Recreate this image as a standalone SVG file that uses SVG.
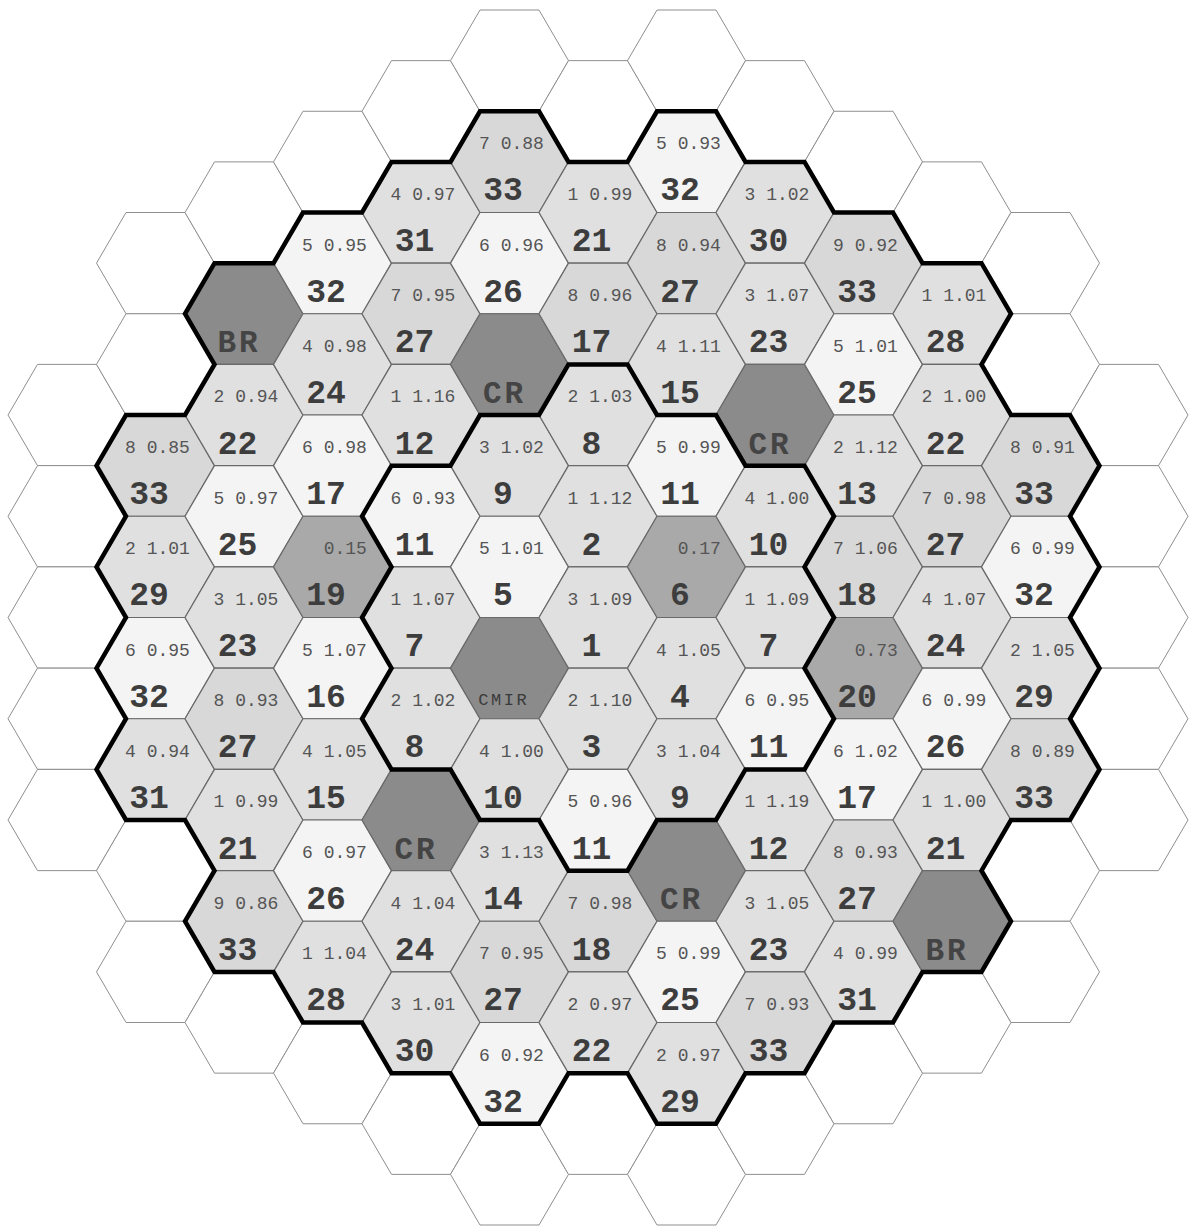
<svg xmlns="http://www.w3.org/2000/svg" xmlns:xlink="http://www.w3.org/1999/xlink" width="1192" height="1227" viewBox="0 0 1192 1227">
<style>
.w{fill:#fff;stroke:#8f8f8f;stroke-width:1}
.a{fill:#f4f4f4;stroke:#6a6a6a;stroke-width:1.2}
.b{fill:#e0e0e0;stroke:#6a6a6a;stroke-width:1.2}
.c{fill:#d8d8d8;stroke:#6a6a6a;stroke-width:1.2}
.p{fill:#a9a9a9;stroke:#6a6a6a;stroke-width:1.2}
.d{fill:#8b8b8b;stroke:#6a6a6a;stroke-width:1.2}
.s{font-family:"Liberation Mono","DejaVu Sans Mono",monospace;font-size:18px;fill:#555;text-anchor:middle}
.n{font-family:"Liberation Mono","DejaVu Sans Mono",monospace;font-size:33px;font-weight:bold;fill:#3d3d3d;text-anchor:middle}
.r{font-family:"Liberation Mono","DejaVu Sans Mono",monospace;font-size:31px;font-weight:bold;fill:#444;text-anchor:middle;letter-spacing:3px}
.m{font-family:"Liberation Mono","DejaVu Sans Mono",monospace;font-size:17px;fill:#3a3a3a;text-anchor:middle;letter-spacing:2.5px}
.bd{fill:none;stroke:#000;stroke-width:4.5;stroke-linejoin:miter}
</style>
<defs>
<polygon id="hx" points="-59,0 -29.5,-50.625 29.5,-50.625 59,0 29.5,50.625 -29.5,50.625"/>
</defs>
<rect width="1192" height="1227" fill="#fff"/>
<g id="empty-positions">
<use id="e01" href="#hx" class="w" x="67" y="415"/>
<use id="e02" href="#hx" class="w" x="67" y="516.25"/>
<use id="e03" href="#hx" class="w" x="67" y="617.5"/>
<use id="e04" href="#hx" class="w" x="67" y="718.75"/>
<use id="e05" href="#hx" class="w" x="67" y="820"/>
<use id="e06" href="#hx" class="w" x="155.5" y="263.13"/>
<use id="e07" href="#hx" class="w" x="155.5" y="364.38"/>
<use id="e08" href="#hx" class="w" x="155.5" y="870.63"/>
<use id="e09" href="#hx" class="w" x="155.5" y="971.88"/>
<use id="e10" href="#hx" class="w" x="244" y="212.5"/>
<use id="e11" href="#hx" class="w" x="244" y="1022.5"/>
<use id="e12" href="#hx" class="w" x="332.5" y="161.88"/>
<use id="e13" href="#hx" class="w" x="332.5" y="1073.13"/>
<use id="e14" href="#hx" class="w" x="421" y="111.25"/>
<use id="e15" href="#hx" class="w" x="421" y="1123.75"/>
<use id="e16" href="#hx" class="w" x="509.5" y="60.63"/>
<use id="e17" href="#hx" class="w" x="509.5" y="1174.38"/>
<use id="e18" href="#hx" class="w" x="598" y="111.25"/>
<use id="e19" href="#hx" class="w" x="598" y="1123.75"/>
<use id="e20" href="#hx" class="w" x="686.5" y="60.63"/>
<use id="e21" href="#hx" class="w" x="686.5" y="1174.38"/>
<use id="e22" href="#hx" class="w" x="775" y="111.25"/>
<use id="e23" href="#hx" class="w" x="775" y="1123.75"/>
<use id="e24" href="#hx" class="w" x="863.5" y="161.88"/>
<use id="e25" href="#hx" class="w" x="863.5" y="1073.13"/>
<use id="e26" href="#hx" class="w" x="952" y="212.5"/>
<use id="e27" href="#hx" class="w" x="952" y="1022.5"/>
<use id="e28" href="#hx" class="w" x="1040.5" y="263.13"/>
<use id="e29" href="#hx" class="w" x="1040.5" y="364.38"/>
<use id="e30" href="#hx" class="w" x="1040.5" y="870.63"/>
<use id="e31" href="#hx" class="w" x="1040.5" y="971.88"/>
<use id="e32" href="#hx" class="w" x="1129" y="415"/>
<use id="e33" href="#hx" class="w" x="1129" y="516.25"/>
<use id="e34" href="#hx" class="w" x="1129" y="617.5"/>
<use id="e35" href="#hx" class="w" x="1129" y="718.75"/>
<use id="e36" href="#hx" class="w" x="1129" y="820"/>
</g>
<g id="core">
<!-- column 1 -->
<g id="c1r1" transform="translate(155.5,465.63)"><use href="#hx" class="c"/><text class="s" x="2" y="-12.6">8 0.85</text><text class="n" x="-6.5" y="38.5">33</text></g>
<g id="c1r2" transform="translate(155.5,566.88)"><use href="#hx" class="b"/><text class="s" x="2" y="-12.6">2 1.01</text><text class="n" x="-6.5" y="38.5">29</text></g>
<g id="c1r3" transform="translate(155.5,668.13)"><use href="#hx" class="a"/><text class="s" x="2" y="-12.6">6 0.95</text><text class="n" x="-6.5" y="38.5">32</text></g>
<g id="c1r4" transform="translate(155.5,769.38)"><use href="#hx" class="b"/><text class="s" x="2" y="-12.6">4 0.94</text><text class="n" x="-6.5" y="38.5">31</text></g>
<!-- column 2 -->
<g id="c2r1" transform="translate(244,313.75)"><use href="#hx" class="d"/><text class="r" x="-5" y="38.5">BR</text></g>
<g id="c2r2" transform="translate(244,415)"><use href="#hx" class="b"/><text class="s" x="2" y="-12.6">2 0.94</text><text class="n" x="-6.5" y="38.5">22</text></g>
<g id="c2r3" transform="translate(244,516.25)"><use href="#hx" class="a"/><text class="s" x="2" y="-12.6">5 0.97</text><text class="n" x="-6.5" y="38.5">25</text></g>
<g id="c2r4" transform="translate(244,617.5)"><use href="#hx" class="b"/><text class="s" x="2" y="-12.6">3 1.05</text><text class="n" x="-6.5" y="38.5">23</text></g>
<g id="c2r5" transform="translate(244,718.75)"><use href="#hx" class="c"/><text class="s" x="2" y="-12.6">8 0.93</text><text class="n" x="-6.5" y="38.5">27</text></g>
<g id="c2r6" transform="translate(244,820)"><use href="#hx" class="b"/><text class="s" x="2" y="-12.6">1 0.99</text><text class="n" x="-6.5" y="38.5">21</text></g>
<g id="c2r7" transform="translate(244,921.25)"><use href="#hx" class="c"/><text class="s" x="2" y="-12.6">9 0.86</text><text class="n" x="-6.5" y="38.5">33</text></g>
<!-- column 3 -->
<g id="c3r1" transform="translate(332.5,263.13)"><use href="#hx" class="a"/><text class="s" x="2" y="-12.6">5 0.95</text><text class="n" x="-6.5" y="38.5">32</text></g>
<g id="c3r2" transform="translate(332.5,364.38)"><use href="#hx" class="b"/><text class="s" x="2" y="-12.6">4 0.98</text><text class="n" x="-6.5" y="38.5">24</text></g>
<g id="c3r3" transform="translate(332.5,465.63)"><use href="#hx" class="a"/><text class="s" x="2" y="-12.6">6 0.98</text><text class="n" x="-6.5" y="38.5">17</text></g>
<g id="c3r4" transform="translate(332.5,566.88)"><use href="#hx" class="p"/><text class="s" x="12.8" y="-12.6">0.15</text><text class="n" x="-6.5" y="38.5">19</text></g>
<g id="c3r5" transform="translate(332.5,668.13)"><use href="#hx" class="a"/><text class="s" x="2" y="-12.6">5 1.07</text><text class="n" x="-6.5" y="38.5">16</text></g>
<g id="c3r6" transform="translate(332.5,769.38)"><use href="#hx" class="b"/><text class="s" x="2" y="-12.6">4 1.05</text><text class="n" x="-6.5" y="38.5">15</text></g>
<g id="c3r7" transform="translate(332.5,870.63)"><use href="#hx" class="a"/><text class="s" x="2" y="-12.6">6 0.97</text><text class="n" x="-6.5" y="38.5">26</text></g>
<g id="c3r8" transform="translate(332.5,971.88)"><use href="#hx" class="b"/><text class="s" x="2" y="-12.6">1 1.04</text><text class="n" x="-6.5" y="38.5">28</text></g>
<!-- column 4 -->
<g id="c4r1" transform="translate(421,212.5)"><use href="#hx" class="b"/><text class="s" x="2" y="-12.6">4 0.97</text><text class="n" x="-6.5" y="38.5">31</text></g>
<g id="c4r2" transform="translate(421,313.75)"><use href="#hx" class="c"/><text class="s" x="2" y="-12.6">7 0.95</text><text class="n" x="-6.5" y="38.5">27</text></g>
<g id="c4r3" transform="translate(421,415)"><use href="#hx" class="b"/><text class="s" x="2" y="-12.6">1 1.16</text><text class="n" x="-6.5" y="38.5">12</text></g>
<g id="c4r4" transform="translate(421,516.25)"><use href="#hx" class="a"/><text class="s" x="2" y="-12.6">6 0.93</text><text class="n" x="-6.5" y="38.5">11</text></g>
<g id="c4r5" transform="translate(421,617.5)"><use href="#hx" class="b"/><text class="s" x="2" y="-12.6">1 1.07</text><text class="n" x="-6.5" y="38.5">7</text></g>
<g id="c4r6" transform="translate(421,718.75)"><use href="#hx" class="b"/><text class="s" x="2" y="-12.6">2 1.02</text><text class="n" x="-6.5" y="38.5">8</text></g>
<g id="c4r7" transform="translate(421,820)"><use href="#hx" class="d"/><text class="r" x="-5" y="38.5">CR</text></g>
<g id="c4r8" transform="translate(421,921.25)"><use href="#hx" class="b"/><text class="s" x="2" y="-12.6">4 1.04</text><text class="n" x="-6.5" y="38.5">24</text></g>
<g id="c4r9" transform="translate(421,1022.5)"><use href="#hx" class="b"/><text class="s" x="2" y="-12.6">3 1.01</text><text class="n" x="-6.5" y="38.5">30</text></g>
<!-- column 5 -->
<g id="c5r1" transform="translate(509.5,161.88)"><use href="#hx" class="c"/><text class="s" x="2" y="-12.6">7 0.88</text><text class="n" x="-6.5" y="38.5">33</text></g>
<g id="c5r2" transform="translate(509.5,263.13)"><use href="#hx" class="a"/><text class="s" x="2" y="-12.6">6 0.96</text><text class="n" x="-6.5" y="38.5">26</text></g>
<g id="c5r3" transform="translate(509.5,364.38)"><use href="#hx" class="d"/><text class="r" x="-5" y="38.5">CR</text></g>
<g id="c5r4" transform="translate(509.5,465.63)"><use href="#hx" class="b"/><text class="s" x="2" y="-12.6">3 1.02</text><text class="n" x="-6.5" y="38.5">9</text></g>
<g id="c5r5" transform="translate(509.5,566.88)"><use href="#hx" class="a"/><text class="s" x="2" y="-12.6">5 1.01</text><text class="n" x="-6.5" y="38.5">5</text></g>
<g id="c5r6" transform="translate(509.5,668.13)"><use href="#hx" class="d"/><text class="m" x="-5.75" y="37">CMIR</text></g>
<g id="c5r7" transform="translate(509.5,769.38)"><use href="#hx" class="b"/><text class="s" x="2" y="-12.6">4 1.00</text><text class="n" x="-6.5" y="38.5">10</text></g>
<g id="c5r8" transform="translate(509.5,870.63)"><use href="#hx" class="b"/><text class="s" x="2" y="-12.6">3 1.13</text><text class="n" x="-6.5" y="38.5">14</text></g>
<g id="c5r9" transform="translate(509.5,971.88)"><use href="#hx" class="c"/><text class="s" x="2" y="-12.6">7 0.95</text><text class="n" x="-6.5" y="38.5">27</text></g>
<g id="c5r10" transform="translate(509.5,1073.13)"><use href="#hx" class="a"/><text class="s" x="2" y="-12.6">6 0.92</text><text class="n" x="-6.5" y="38.5">32</text></g>
<!-- column 6 -->
<g id="c6r1" transform="translate(598,212.5)"><use href="#hx" class="b"/><text class="s" x="2" y="-12.6">1 0.99</text><text class="n" x="-6.5" y="38.5">21</text></g>
<g id="c6r2" transform="translate(598,313.75)"><use href="#hx" class="c"/><text class="s" x="2" y="-12.6">8 0.96</text><text class="n" x="-6.5" y="38.5">17</text></g>
<g id="c6r3" transform="translate(598,415)"><use href="#hx" class="b"/><text class="s" x="2" y="-12.6">2 1.03</text><text class="n" x="-6.5" y="38.5">8</text></g>
<g id="c6r4" transform="translate(598,516.25)"><use href="#hx" class="b"/><text class="s" x="2" y="-12.6">1 1.12</text><text class="n" x="-6.5" y="38.5">2</text></g>
<g id="c6r5" transform="translate(598,617.5)"><use href="#hx" class="b"/><text class="s" x="2" y="-12.6">3 1.09</text><text class="n" x="-6.5" y="38.5">1</text></g>
<g id="c6r6" transform="translate(598,718.75)"><use href="#hx" class="b"/><text class="s" x="2" y="-12.6">2 1.10</text><text class="n" x="-6.5" y="38.5">3</text></g>
<g id="c6r7" transform="translate(598,820)"><use href="#hx" class="a"/><text class="s" x="2" y="-12.6">5 0.96</text><text class="n" x="-6.5" y="38.5">11</text></g>
<g id="c6r8" transform="translate(598,921.25)"><use href="#hx" class="c"/><text class="s" x="2" y="-12.6">7 0.98</text><text class="n" x="-6.5" y="38.5">18</text></g>
<g id="c6r9" transform="translate(598,1022.5)"><use href="#hx" class="b"/><text class="s" x="2" y="-12.6">2 0.97</text><text class="n" x="-6.5" y="38.5">22</text></g>
<!-- column 7 -->
<g id="c7r1" transform="translate(686.5,161.88)"><use href="#hx" class="a"/><text class="s" x="2" y="-12.6">5 0.93</text><text class="n" x="-6.5" y="38.5">32</text></g>
<g id="c7r2" transform="translate(686.5,263.13)"><use href="#hx" class="c"/><text class="s" x="2" y="-12.6">8 0.94</text><text class="n" x="-6.5" y="38.5">27</text></g>
<g id="c7r3" transform="translate(686.5,364.38)"><use href="#hx" class="b"/><text class="s" x="2" y="-12.6">4 1.11</text><text class="n" x="-6.5" y="38.5">15</text></g>
<g id="c7r4" transform="translate(686.5,465.63)"><use href="#hx" class="a"/><text class="s" x="2" y="-12.6">5 0.99</text><text class="n" x="-6.5" y="38.5">11</text></g>
<g id="c7r5" transform="translate(686.5,566.88)"><use href="#hx" class="p"/><text class="s" x="12.8" y="-12.6">0.17</text><text class="n" x="-6.5" y="38.5">6</text></g>
<g id="c7r6" transform="translate(686.5,668.13)"><use href="#hx" class="b"/><text class="s" x="2" y="-12.6">4 1.05</text><text class="n" x="-6.5" y="38.5">4</text></g>
<g id="c7r7" transform="translate(686.5,769.38)"><use href="#hx" class="b"/><text class="s" x="2" y="-12.6">3 1.04</text><text class="n" x="-6.5" y="38.5">9</text></g>
<g id="c7r8" transform="translate(686.5,870.63)"><use href="#hx" class="d"/><text class="r" x="-5" y="38.5">CR</text></g>
<g id="c7r9" transform="translate(686.5,971.88)"><use href="#hx" class="a"/><text class="s" x="2" y="-12.6">5 0.99</text><text class="n" x="-6.5" y="38.5">25</text></g>
<g id="c7r10" transform="translate(686.5,1073.13)"><use href="#hx" class="b"/><text class="s" x="2" y="-12.6">2 0.97</text><text class="n" x="-6.5" y="38.5">29</text></g>
<!-- column 8 -->
<g id="c8r1" transform="translate(775,212.5)"><use href="#hx" class="b"/><text class="s" x="2" y="-12.6">3 1.02</text><text class="n" x="-6.5" y="38.5">30</text></g>
<g id="c8r2" transform="translate(775,313.75)"><use href="#hx" class="b"/><text class="s" x="2" y="-12.6">3 1.07</text><text class="n" x="-6.5" y="38.5">23</text></g>
<g id="c8r3" transform="translate(775,415)"><use href="#hx" class="d"/><text class="r" x="-5" y="38.5">CR</text></g>
<g id="c8r4" transform="translate(775,516.25)"><use href="#hx" class="b"/><text class="s" x="2" y="-12.6">4 1.00</text><text class="n" x="-6.5" y="38.5">10</text></g>
<g id="c8r5" transform="translate(775,617.5)"><use href="#hx" class="b"/><text class="s" x="2" y="-12.6">1 1.09</text><text class="n" x="-6.5" y="38.5">7</text></g>
<g id="c8r6" transform="translate(775,718.75)"><use href="#hx" class="a"/><text class="s" x="2" y="-12.6">6 0.95</text><text class="n" x="-6.5" y="38.5">11</text></g>
<g id="c8r7" transform="translate(775,820)"><use href="#hx" class="b"/><text class="s" x="2" y="-12.6">1 1.19</text><text class="n" x="-6.5" y="38.5">12</text></g>
<g id="c8r8" transform="translate(775,921.25)"><use href="#hx" class="b"/><text class="s" x="2" y="-12.6">3 1.05</text><text class="n" x="-6.5" y="38.5">23</text></g>
<g id="c8r9" transform="translate(775,1022.5)"><use href="#hx" class="c"/><text class="s" x="2" y="-12.6">7 0.93</text><text class="n" x="-6.5" y="38.5">33</text></g>
<!-- column 9 -->
<g id="c9r1" transform="translate(863.5,263.13)"><use href="#hx" class="c"/><text class="s" x="2" y="-12.6">9 0.92</text><text class="n" x="-6.5" y="38.5">33</text></g>
<g id="c9r2" transform="translate(863.5,364.38)"><use href="#hx" class="a"/><text class="s" x="2" y="-12.6">5 1.01</text><text class="n" x="-6.5" y="38.5">25</text></g>
<g id="c9r3" transform="translate(863.5,465.63)"><use href="#hx" class="b"/><text class="s" x="2" y="-12.6">2 1.12</text><text class="n" x="-6.5" y="38.5">13</text></g>
<g id="c9r4" transform="translate(863.5,566.88)"><use href="#hx" class="c"/><text class="s" x="2" y="-12.6">7 1.06</text><text class="n" x="-6.5" y="38.5">18</text></g>
<g id="c9r5" transform="translate(863.5,668.13)"><use href="#hx" class="p"/><text class="s" x="12.8" y="-12.6">0.73</text><text class="n" x="-6.5" y="38.5">20</text></g>
<g id="c9r6" transform="translate(863.5,769.38)"><use href="#hx" class="a"/><text class="s" x="2" y="-12.6">6 1.02</text><text class="n" x="-6.5" y="38.5">17</text></g>
<g id="c9r7" transform="translate(863.5,870.63)"><use href="#hx" class="c"/><text class="s" x="2" y="-12.6">8 0.93</text><text class="n" x="-6.5" y="38.5">27</text></g>
<g id="c9r8" transform="translate(863.5,971.88)"><use href="#hx" class="b"/><text class="s" x="2" y="-12.6">4 0.99</text><text class="n" x="-6.5" y="38.5">31</text></g>
<!-- column 10 -->
<g id="c10r1" transform="translate(952,313.75)"><use href="#hx" class="b"/><text class="s" x="2" y="-12.6">1 1.01</text><text class="n" x="-6.5" y="38.5">28</text></g>
<g id="c10r2" transform="translate(952,415)"><use href="#hx" class="b"/><text class="s" x="2" y="-12.6">2 1.00</text><text class="n" x="-6.5" y="38.5">22</text></g>
<g id="c10r3" transform="translate(952,516.25)"><use href="#hx" class="c"/><text class="s" x="2" y="-12.6">7 0.98</text><text class="n" x="-6.5" y="38.5">27</text></g>
<g id="c10r4" transform="translate(952,617.5)"><use href="#hx" class="b"/><text class="s" x="2" y="-12.6">4 1.07</text><text class="n" x="-6.5" y="38.5">24</text></g>
<g id="c10r5" transform="translate(952,718.75)"><use href="#hx" class="a"/><text class="s" x="2" y="-12.6">6 0.99</text><text class="n" x="-6.5" y="38.5">26</text></g>
<g id="c10r6" transform="translate(952,820)"><use href="#hx" class="b"/><text class="s" x="2" y="-12.6">1 1.00</text><text class="n" x="-6.5" y="38.5">21</text></g>
<g id="c10r7" transform="translate(952,921.25)"><use href="#hx" class="d"/><text class="r" x="-5" y="38.5">BR</text></g>
<!-- column 11 -->
<g id="c11r1" transform="translate(1040.5,465.63)"><use href="#hx" class="c"/><text class="s" x="2" y="-12.6">8 0.91</text><text class="n" x="-6.5" y="38.5">33</text></g>
<g id="c11r2" transform="translate(1040.5,566.88)"><use href="#hx" class="a"/><text class="s" x="2" y="-12.6">6 0.99</text><text class="n" x="-6.5" y="38.5">32</text></g>
<g id="c11r3" transform="translate(1040.5,668.13)"><use href="#hx" class="b"/><text class="s" x="2" y="-12.6">2 1.05</text><text class="n" x="-6.5" y="38.5">29</text></g>
<g id="c11r4" transform="translate(1040.5,769.38)"><use href="#hx" class="c"/><text class="s" x="2" y="-12.6">8 0.89</text><text class="n" x="-6.5" y="38.5">33</text></g>
</g>
<g id="zone-borders">
<path id="outer-border" class="bd" d="M126,820 L96.5,769.38 L126,718.75 L96.5,668.13 L126,617.5 L96.5,566.88 L126,516.25 L96.5,465.63 L126,415 L185,415 L214.5,364.38 L185,313.75 L214.5,263.13 L273.5,263.13 L303,212.5 L362,212.5 L391.5,161.88 L450.5,161.88 L480,111.25 L539,111.25 L568.5,161.88 L627.5,161.88 L657,111.25 L716,111.25 L745.5,161.88 L804.5,161.88 L834,212.5 L893,212.5 L922.5,263.13 L981.5,263.13 L1011,313.75 L981.5,364.38 L1011,415 L1070,415 L1099.5,465.63 L1070,516.25 L1099.5,566.88 L1070,617.5 L1099.5,668.13 L1070,718.75 L1099.5,769.38 L1070,820 L1011,820 L981.5,870.63 L1011,921.25 L981.5,971.88 L922.5,971.88 L893,1022.5 L834,1022.5 L804.5,1073.13 L745.5,1073.13 L716,1123.75 L657,1123.75 L627.5,1073.13 L568.5,1073.13 L539,1123.75 L480,1123.75 L450.5,1073.13 L391.5,1073.13 L362,1022.5 L303,1022.5 L273.5,971.88 L214.5,971.88 L185,921.25 L214.5,870.63 L185,820 Z"/>
<path id="inner-border" class="bd" d="M391.5,769.38 L362,718.75 L391.5,668.13 L362,617.5 L391.5,566.88 L362,516.25 L391.5,465.63 L450.5,465.63 L480,415 L539,415 L568.5,364.38 L627.5,364.38 L657,415 L716,415 L745.5,465.63 L804.5,465.63 L834,516.25 L804.5,566.88 L834,617.5 L804.5,668.13 L834,718.75 L804.5,769.38 L745.5,769.38 L716,820 L657,820 L627.5,870.63 L568.5,870.63 L539,820 L480,820 L450.5,769.38 Z"/>
</g>
</svg>
